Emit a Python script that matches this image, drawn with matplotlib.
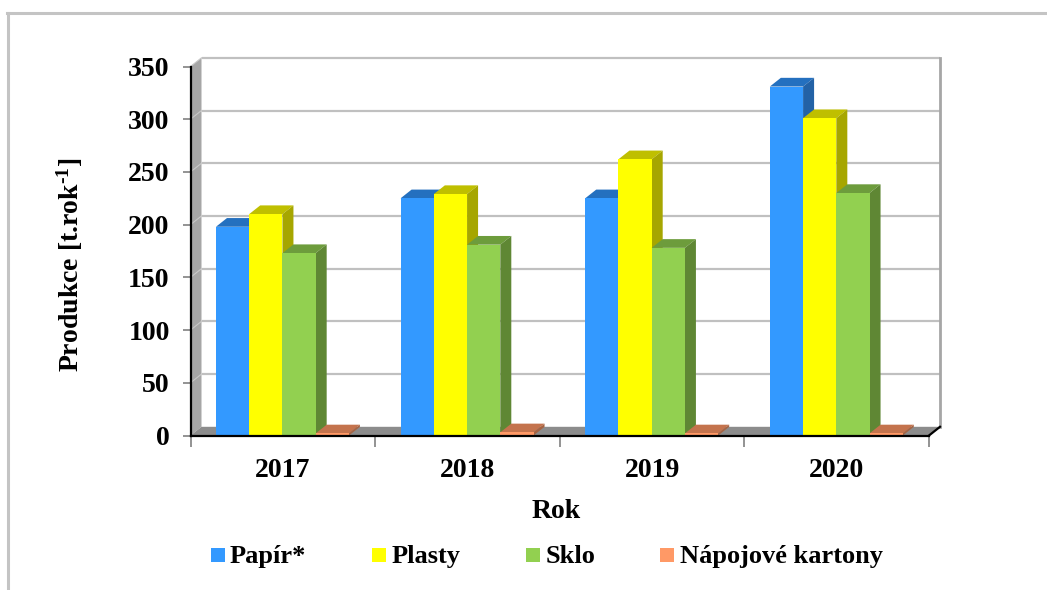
import matplotlib.pyplot as plt
from matplotlib.patches import Polygon, Rectangle
from matplotlib.lines import Line2D

plt.rcParams['font.family'] = ['Liberation Serif', 'DejaVu Serif']
plt.rcParams['mathtext.fontset'] = 'custom'
plt.rcParams['mathtext.rm'] = 'Liberation Serif:bold'
plt.rcParams['mathtext.default'] = 'rm'

years = ['2017', '2018', '2019', '2020']
papir = [198, 225, 225, 331]
plasty = [210, 229, 262, 301]
sklo = [173, 181, 178, 230]
kartony = [2, 3, 2, 2]

series_names = ['Papír*', 'Plasty', 'Sklo', 'Nápojové kartony']
series_values = [papir, plasty, sklo, kartony]
# front, top, side
series_colors = [('#3399ff', '#2470bf', '#2362a6'),
                 ('#ffff00', '#bfbf00', '#a6a600'),
                 ('#92d050', '#6d9c3c', '#5f8734'),
                 ('#ff9966', '#c4734d', '#a66342')]
y_ticks = [0, 50, 100, 150, 200, 250, 300, 350]

W, H = 1047, 590
fig = plt.figure(figsize=(W / 100, H / 100), dpi=100)

# frame of the pasted picture
fig.add_artist(Line2D([7.5 / W, 7.5 / W], [0, 1 - 13 / H], color='#c4c4c4', lw=2.2))
fig.add_artist(Line2D([7 / W, 1], [1 - 13 / H, 1 - 13 / H], color='#c4c4c4', lw=2.2))

left, right, top, bottom = 190.5, 929, 66.5, 435.5
ax = fig.add_axes([left / W, 1 - bottom / H, (right - left) / W, (bottom - top) / H])
ax.set_xlim(0, 4)
ax.set_ylim(0, 350)
ax.patch.set_visible(False)

# depth of the fake 3D in data units
dx = 11 / ((right - left) / 4)
dy = 8.7 / ((bottom - top) / 350)

# walls
ax.add_patch(Polygon([(0, 0), (0, 350), (dx, 350 + dy), (dx, dy)], fc='#a6a6a6', ec='none', clip_on=False, zorder=1))
ax.add_patch(Polygon([(0, 0), (4, 0), (4 + dx, dy), (dx, dy)], fc='#8c8c8c', ec='none', clip_on=False, zorder=1))
for t in y_ticks[1:]:
    ax.plot([dx, 4 + dx], [t + dy, t + dy], color='#c0c0c0', lw=1.6, clip_on=False, zorder=1.5, solid_capstyle='butt')
    ax.plot([0, dx], [t, t + dy], color='#c8c8c8', lw=0.8, clip_on=False, zorder=1.5)
ax.plot([4 + dx, 4 + dx], [dy, 350 + dy], color='#a6a6a6', lw=2, clip_on=False, zorder=1.5)

# bars
bar_w = 0.18
start = 0.138
for j, (vals, cols) in enumerate(zip(series_values, series_colors)):
    for i, v in enumerate(vals):
        x0 = i + start + j * bar_w
        x1 = x0 + bar_w
        z = 2 + i + j * 0.1
        ax.bar(x0, v, bar_w, align='edge', color=cols[0], zorder=z + 0.02, linewidth=0)
        ax.add_patch(Polygon([(x0, v), (x1, v), (x1 + dx, v + dy), (x0 + dx, v + dy)],
                             fc=cols[1], ec='none', clip_on=False, zorder=z))
        ax.add_patch(Polygon([(x1, 0), (x1, v), (x1 + dx, v + dy), (x1 + dx, dy)],
                             fc=cols[2], ec='none', clip_on=False, zorder=z + 0.01))

# axes
for s in ['top', 'right']:
    ax.spines[s].set_visible(False)
for s in ['left', 'bottom']:
    ax.spines[s].set_color('black')
    ax.spines[s].set_linewidth(1.6)
    ax.spines[s].set_zorder(20)
ax.plot([4, 4 + dx], [0, dy], color='black', lw=1.6, clip_on=False, zorder=20)

ax.set_yticks(y_ticks)
ax.set_xticks([0, 1, 2, 3, 4])
ax.set_xticklabels([])
ax.tick_params(axis='y', color='#808080', width=1.2, length=6, pad=9)
ax.tick_params(axis='x', color='#808080', width=1.2, length=8)
ax.set_yticklabels([str(t) for t in y_ticks], fontsize=20, fontweight='bold')
for i, y in enumerate(years):
    ax.text(i + 0.5, -33.5, y, ha='center', va='center', fontsize=20, fontweight='bold')

fig.text(556 / W, 1 - 512 / H, 'Rok', ha='center', va='center', fontsize=20, fontweight='bold')
fig.text(70 / W, 1 - 265 / H, r'Produkce [t.rok$^{\text{-1}}$]', rotation=90, ha='center', va='center',
         fontsize=20, fontweight='bold')

# legend, placed by hand like the original
square_x = [211, 372, 526, 660]
label_x = [230, 392, 546, 680]
for name, cols, sx, tx in zip(series_names, series_colors, square_x, label_x):
    fig.add_artist(Rectangle((sx / W, 1 - 562 / H), 14 / W, 14 / H, transform=fig.transFigure,
                             fc=cols[0], ec='none'))
    fig.text(tx / W, 1 - 563 / H, name, ha='left', va='baseline', fontsize=19, fontweight='bold')

fig.savefig('out.png', dpi=100)
